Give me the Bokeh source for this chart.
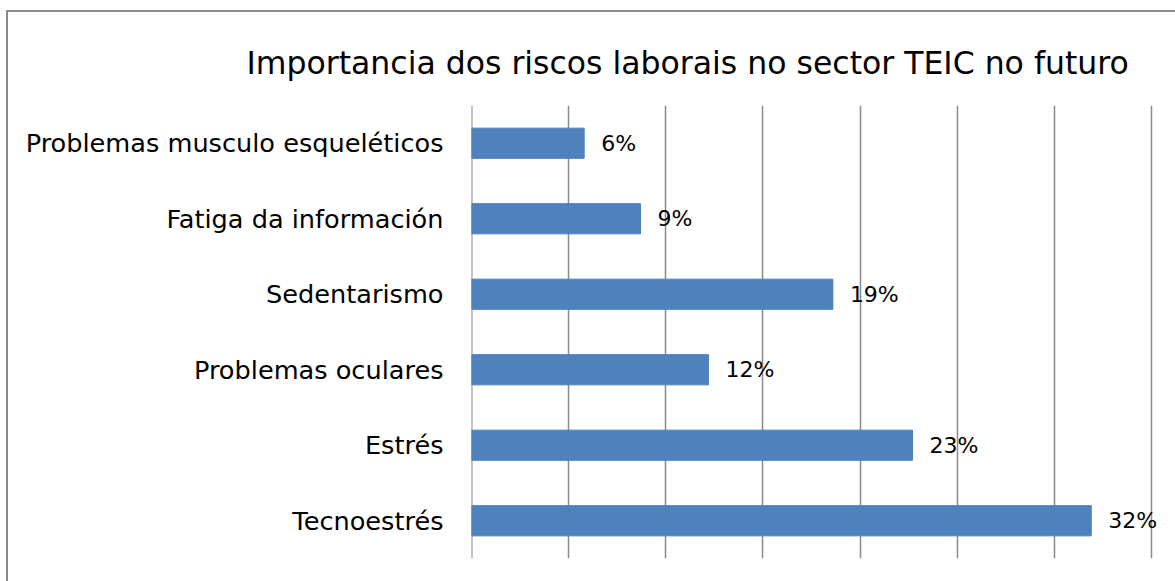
from bokeh.plotting import figure
from bokeh.models import FactorRange, Range1d, FixedTicker, LabelSet, ColumnDataSource, Span
from bokeh.core.properties import value
from bokeh.embed import file_html
from bokeh.resources import INLINE

categories = ["Problemas musculo esqueléticos", "Fatiga da información", "Sedentarismo",
              "Problemas oculares", "Estrés", "Tecnoestrés"]
values = [5.8, 8.7, 18.6, 12.2, 22.7, 31.9]
labels = ["6%", "9%", "19%", "12%", "23%", "32%"]
grid_ticks = [0, 5, 10, 15, 20, 25, 30, 35]

FONT = "DejaVu Sans"
GRID = "#8a8a8a"

src = ColumnDataSource(dict(cat=categories, val=values, lab=labels))

p = figure(width=1167, height=569, output_backend="svg", toolbar_location=None,
           y_range=FactorRange(factors=list(reversed(categories))),
           x_range=Range1d(0, 36.08),
           title="Importancia dos riscos laborais no sector TEIC no futuro",
           min_border_left=463, min_border_right=3, min_border_top=93, min_border_bottom=23)

p.styles = {"margin-top": "12px", "margin-left": "8px", "outline": "2px solid #8c8c8c"}

# value axis line at zero
p.add_layout(Span(location=0, dimension="height", line_color=GRID, line_width=2, level="underlay"))

p.hbar(y="cat", left=0, right="val", height=0.4, source=src,
       fill_color="#4F81BD", line_color="#4F81BD")

p.add_layout(LabelSet(x="val", y="cat", text="lab", source=src, x_offset=17,
                      text_baseline="middle", text_align="left",
                      text_font=value(FONT), text_font_size="22px", text_color="#000000"))

p.title.text_font = FONT
p.title.text_font_size = "31.5px"
p.title.text_font_style = "normal"
p.title.text_color = "#000000"
p.title.align = "left"
p.title.offset = -225
p.title.standoff = 49

p.xaxis.visible = False
p.xgrid.ticker = FixedTicker(ticks=grid_ticks)
p.xgrid.grid_line_color = GRID
p.xgrid.grid_line_width = 1.5
p.ygrid.visible = False

p.yaxis.axis_line_color = None
p.yaxis.major_tick_line_color = None
p.yaxis.minor_tick_line_color = None
p.yaxis.major_tick_out = 0
p.yaxis.major_label_standoff = 28
p.yaxis.major_label_text_font = FONT
p.yaxis.major_label_text_font_size = "25.6px"
p.yaxis.major_label_text_color = "#000000"

p.outline_line_color = None
p.background_fill_color = "white"
p.border_fill_color = "white"

open("out.html", "w").write(file_html(p, INLINE))
